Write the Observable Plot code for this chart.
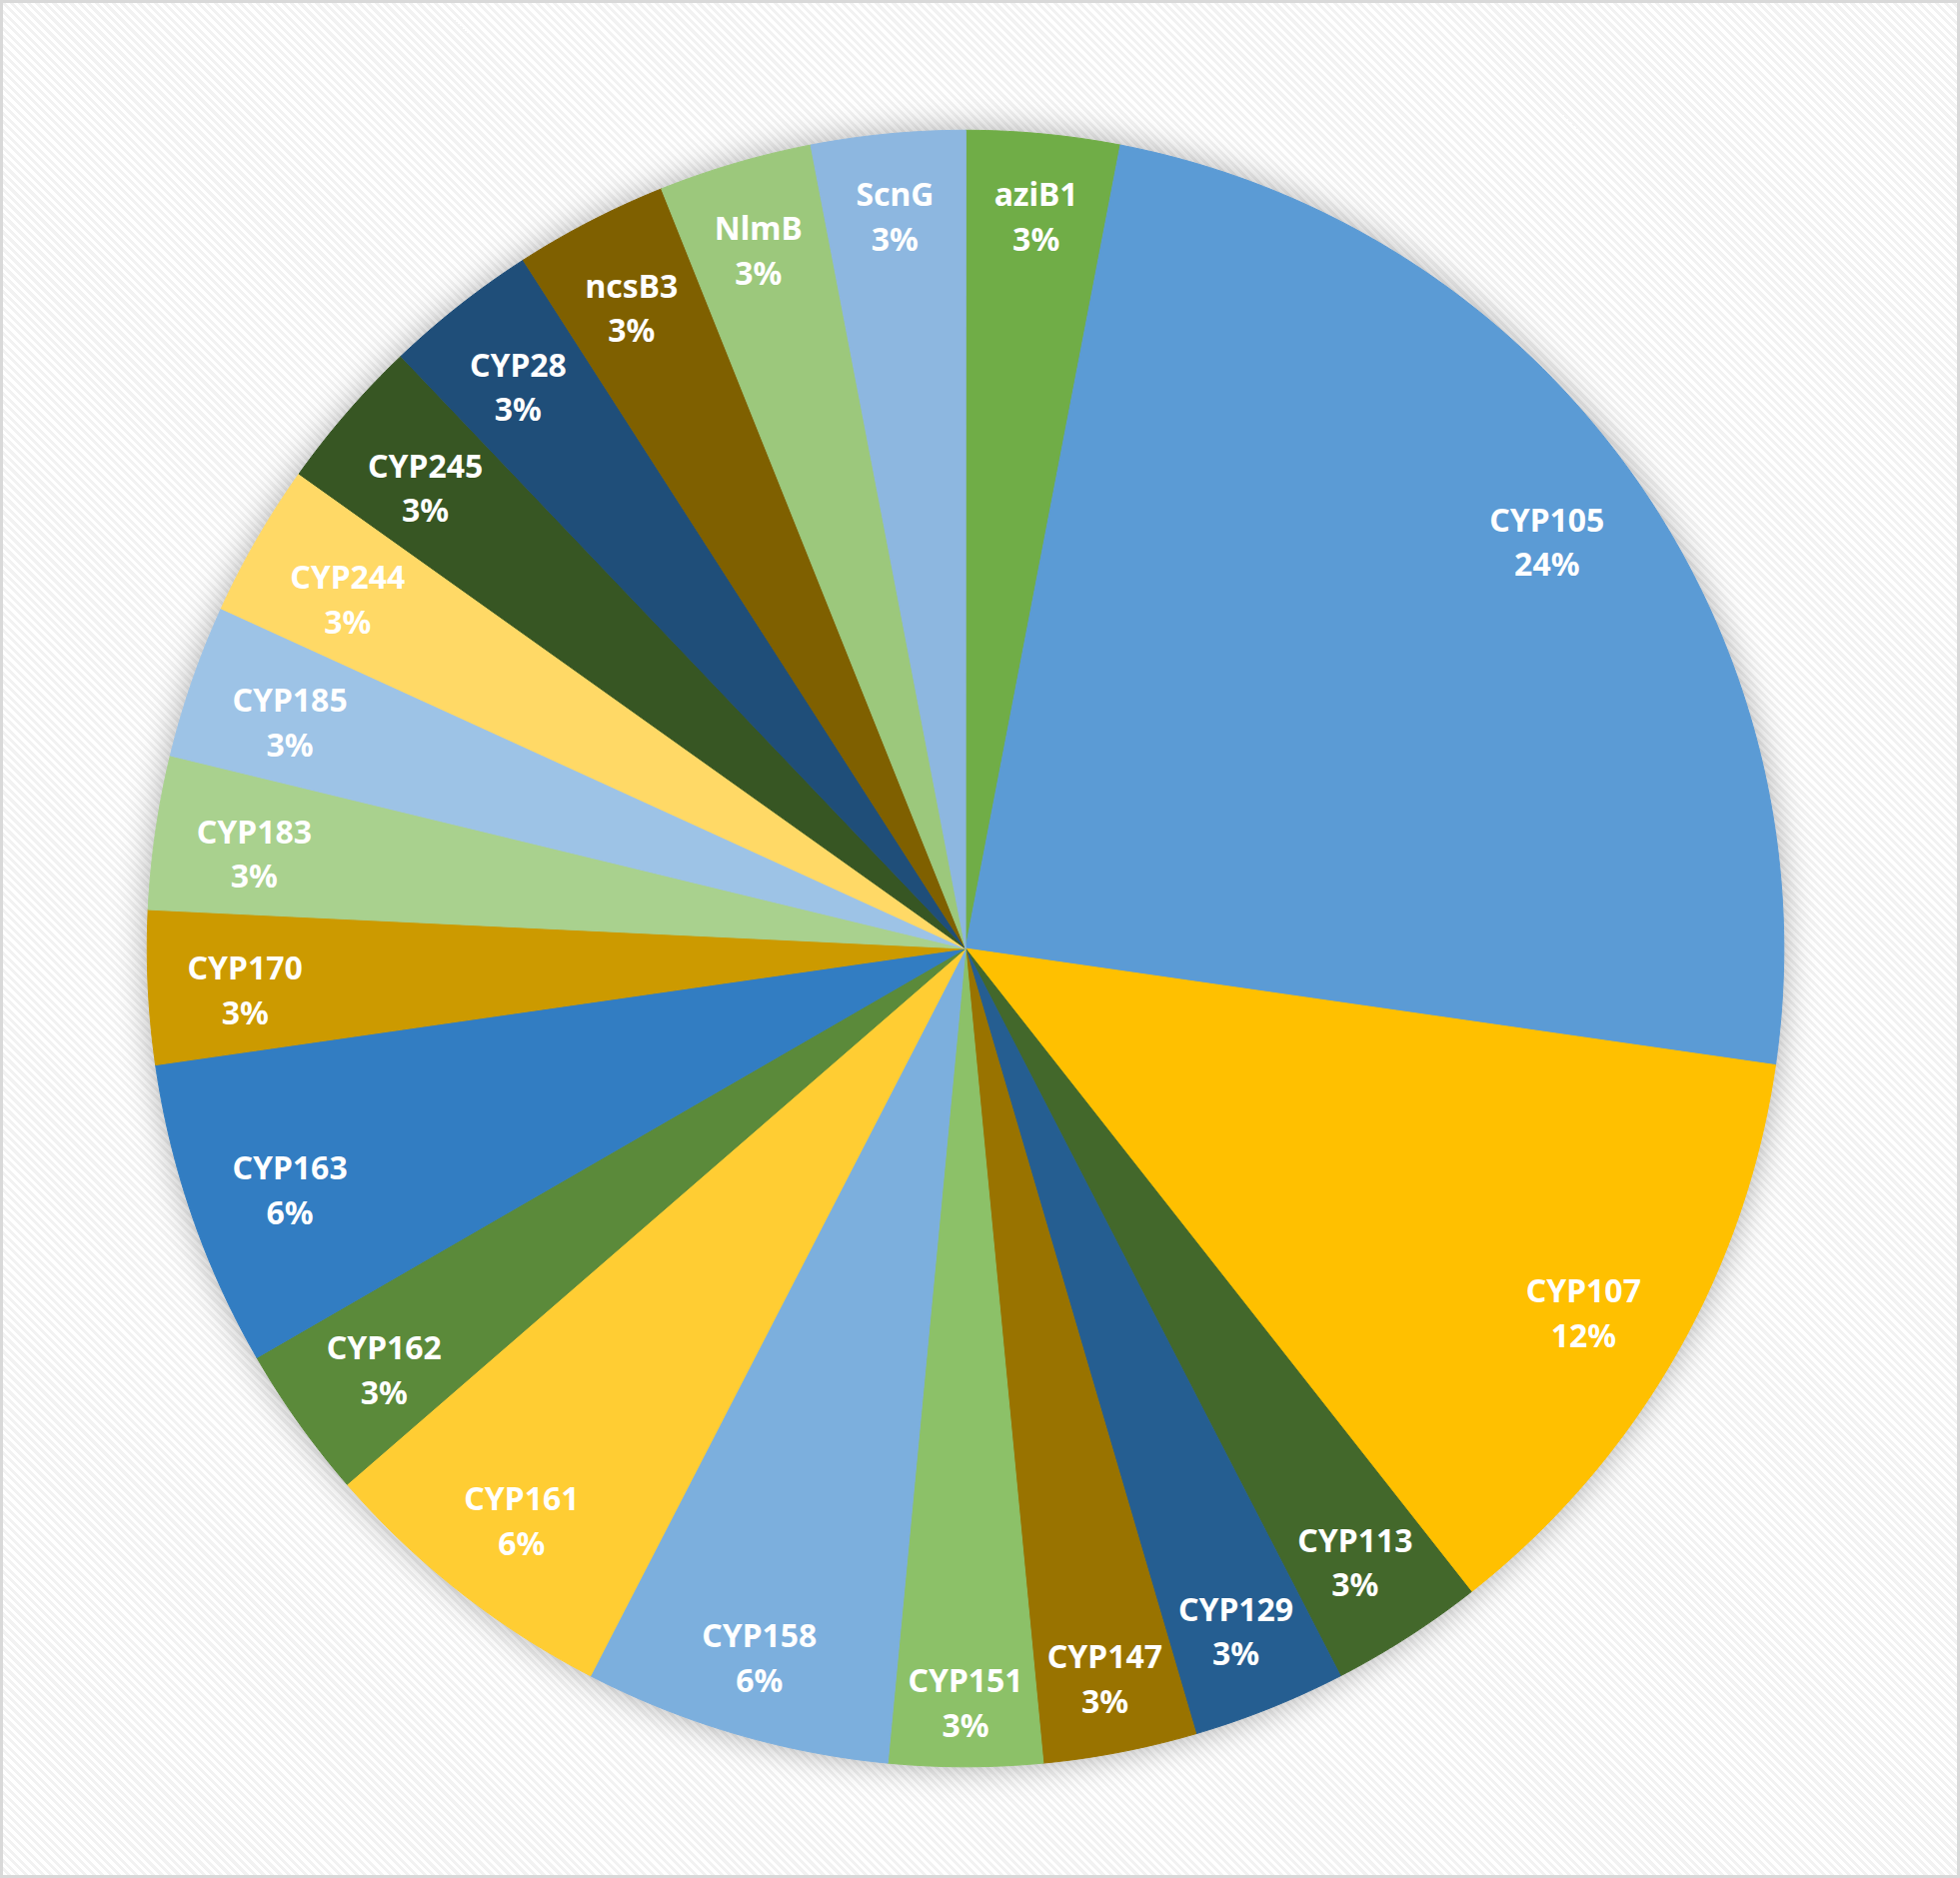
<!DOCTYPE html>
<html><head><meta charset="utf-8">
<script src="https://cdn.jsdelivr.net/npm/d3@7"></script>
<script src="https://cdn.jsdelivr.net/npm/@observablehq/plot@0.6"></script>
<style>
html,body{margin:0;padding:0;background:#fff;}
#frame{position:relative;width:1961px;height:1879px;box-sizing:border-box;border:3px solid #d9d9d9;
  background:repeating-linear-gradient(45deg,#ffffff 0px,#ffffff 3px,#f2f2f2 3px,#f2f2f2 6px);overflow:hidden}
#chart{position:absolute;left:-3px;top:-3px}
</style></head><body><div id="frame"><div id="chart"></div></div>
<script>
const names = ["aziB1","CYP105","CYP107","CYP113","CYP129","CYP147","CYP151","CYP158","CYP161","CYP162","CYP163","CYP170","CYP183","CYP185","CYP244","CYP245","CYP28","ncsB3","NlmB","ScnG"];
const counts = [1,8,4,1,1,1,1,2,2,1,2,1,1,1,1,1,1,1,1,1];
const colors = ["#70AD47","#5B9BD5","#FFC000","#43682B","#255E91","#997300","#8CC168","#7CAFDD","#FFCD33","#5B8A3A","#327DC2","#CC9A00","#A9D18E","#9DC3E6","#FFD966","#375623","#1F4E79","#7F6000","#9CC87C","#8DB7E0"];

const total = d3.sum(counts);
const R = 820;             // pie radius in px (used to turn label padding into data units)
const fontSize = 32;
const fontFamily = "'Noto Sans', sans-serif";

const ctx = document.createElement("canvas").getContext("2d");
ctx.font = `bold ${fontSize}px ${fontFamily}`;

const slicePts = [];
const labels = [];
let acc = 0;
names.forEach((name, i) => {
  const a0 = acc / total * 2 * Math.PI;
  acc += counts[i];
  const a1 = acc / total * 2 * Math.PI;
  slicePts.push({name, x: 0, y: 0});
  const n = Math.max(8, Math.ceil((a1 - a0) / (Math.PI / 360)));
  for (let k = 0; k <= n; k++) {
    const a = a0 + (a1 - a0) * k / n;
    slicePts.push({name, x: Math.sin(a), y: Math.cos(a)});
  }
  const pct = Math.round(counts[i] / total * 100) + "%";
  const am = (a0 + a1) / 2;
  const hw = Math.max(ctx.measureText(name).width, ctx.measureText(pct).width) / 2;
  const hh = 34;
  const rl = (R - 38 - (hw * Math.abs(Math.sin(am)) + hh * Math.abs(Math.cos(am)))) / R;
  labels.push({name, label: name + "\n" + pct, x: rl * Math.sin(am), y: rl * Math.cos(am)});
});

const chart = Plot.plot({
  width: 1961, height: 1879,
  marginLeft: 147, marginRight: 174, marginTop: 130, marginBottom: 109,
  x: {domain: [-1, 1], axis: null},
  y: {domain: [-1, 1], axis: null},
  color: {domain: names, range: colors},
  style: {background: "transparent", overflow: "visible"},
  marks: [
    Plot.line(slicePts, {x: "x", y: "y", z: "name", fill: "name", stroke: "name", strokeWidth: 1, curve: "linear-closed"}),
    Plot.text(labels, {x: "x", y: "y", text: "label", fill: "white", fontSize, fontWeight: "bold", fontFamily, lineHeight: 1.4, dy: 5})
  ]
});
const g = chart.querySelector('g[aria-label="line"]');
if (g) g.style.filter = "drop-shadow(0px 0px 16px rgba(0,0,0,0.3))";
document.getElementById("chart").appendChild(chart);
</script></body></html>
